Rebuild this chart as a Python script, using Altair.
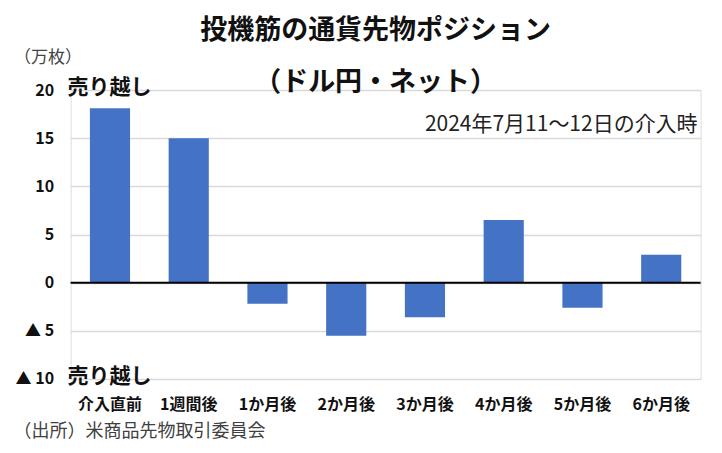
import altair as alt
import pandas as pd

# --- data ---
periods = ['介入直前', '1週間後', '1か月後', '2か月後', '3か月後', '4か月後', '5か月後', '6か月後']
positions = [18.1, 15.0, -2.2, -5.5, -3.6, 6.5, -2.6, 2.9]
tick_values = [-10, -5, 0, 5, 10, 15, 20]
side_labels = ['売り越し', '売り越し']
side_values = [20, -10]

FONT = 'Noto Sans CJK JP'
BLUE = '#4472C4'

df = pd.DataFrame({'period': periods, 'position': positions})
df_side = pd.DataFrame({'label': side_labels, 'value': side_values})
df_zero = pd.DataFrame({'value': [0]})

y_scale = alt.Scale(domain=[-10, 20], nice=False, zero=True)

bars = alt.Chart(df).mark_bar(color=BLUE).encode(
    x=alt.X(
        'period:N',
        sort=periods,
        title=None,
        scale=alt.Scale(paddingInner=0.49, paddingOuter=0.245),
        axis=alt.Axis(
            labelAngle=0, labelFont=FONT, labelFontSize=16, labelFontWeight='bold',
            labelColor='#111', labelPadding=18, labelBaseline='top',
            domain=False, ticks=False
        )
    ),
    y=alt.Y(
        'position:Q',
        scale=y_scale,
        title='（万枚）',
        axis=alt.Axis(
            values=tick_values,
            labelExpr="datum.value < 0 ? '▲ ' + abs(datum.value) : datum.value",
            labelFont=FONT, labelFontSize=16, labelFontWeight='bold', labelColor='#111',
            labelPadding=17, ticks=False, domain=False,
            gridColor='#d9d9d9', gridWidth=1.5,
            titleAngle=0, titleAlign='left', titleBaseline='middle',
            titleX=-57, titleY=-33, titleFont=FONT, titleFontSize=17,
            titleFontWeight='normal', titleColor='#444'
        )
    )
)

zero_line = alt.Chart(df_zero).mark_rule(color='#000', strokeWidth=2).encode(
    y=alt.Y('value:Q', scale=y_scale)
)

side_text = alt.Chart(df_side).mark_text(
    font=FONT, fontSize=21, fontWeight='bold', align='left', baseline='middle',
    color='#111', dy=-2
).encode(
    x=alt.value(-3),
    y=alt.Y('value:Q', scale=y_scale),
    text='label:N'
)

note = alt.Chart(df_zero).mark_text(
    font=FONT, fontSize=21, align='right', baseline='middle', color='#222',
    text='2024年7月11～12日の介入時'
).encode(
    x=alt.value(627),
    y=alt.value(35)
)

source = alt.Chart(df_zero).mark_text(
    font=FONT, fontSize=18, align='left', baseline='middle', color='#404040',
    text='（出所）米商品先物取引委員会'
).encode(
    x=alt.value(-57),
    y=alt.value(342)
)

chart = alt.layer(bars, zero_line, side_text, note, source).properties(
    width=630,
    height=289,
    autosize=alt.AutoSizeParams(type='none'),
    padding={'left': 62.6, 'top': 82, 'right': 13, 'bottom': 66},
    title=alt.TitleParams(
        text='投機筋の通貨先物ポジション',
        subtitle='（ドル円・ネット）',
        font=FONT, fontSize=27, fontWeight='bold', color='#111',
        subtitleFont=FONT, subtitleFontSize=27, subtitleFontWeight='bold',
        subtitleColor='#111', subtitlePadding=25,
        anchor='middle', dx=-10, offset=-49
    )
).configure_view(stroke=None).configure(background='white')

chart.save('out.html', embed_options={'renderer': 'svg', 'actions': False})
